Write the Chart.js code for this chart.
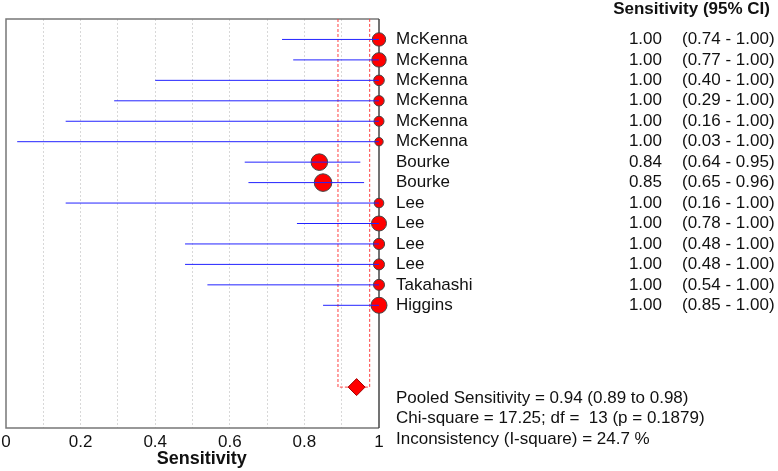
<!DOCTYPE html>
<html>
<head>
<meta charset="utf-8">
<script src="https://cdn.jsdelivr.net/npm/chart.js@4.4.1/dist/chart.umd.min.js"></script>
<style>
  html, body { margin: 0; padding: 0; background: #fff; }
  #wrap { width: 778px; height: 471px; }
</style>
</head>
<body>
<div id="wrap"><canvas id="forestChart"></canvas></div>
<script>
// study rows, top to bottom
var studies = ["McKenna", "McKenna", "McKenna", "McKenna", "McKenna", "McKenna",
    "Bourke", "Bourke", "Lee", "Lee", "Lee", "Lee", "Takahashi", "Higgins"];
var sensitivity = [1.00, 1.00, 1.00, 1.00, 1.00, 1.00, 0.84, 0.85, 1.00, 1.00, 1.00, 1.00, 1.00, 1.00];
var ciLow = [0.74, 0.77, 0.40, 0.29, 0.16, 0.03, 0.64, 0.65, 0.16, 0.78, 0.48, 0.48, 0.54, 0.85];
var ciHigh = [1.00, 1.00, 1.00, 1.00, 1.00, 1.00, 0.95, 0.96, 1.00, 1.00, 1.00, 1.00, 1.00, 1.00];
// marker radius (study weight)
var markerSize = [6.7, 7.2, 5.3, 5.2, 5.0, 4.2, 8.3, 8.8, 4.8, 7.5, 5.6, 5.5, 5.5, 8.0];

var pooled = [0.94, 0.89, 0.975]; // estimate, lower, upper
var pooledRow = 17;
var xTicks = [0, 0.2, 0.4, 0.6, 0.8, 1];
var statsText = [
    "Pooled Sensitivity = 0.94 (0.89 to 0.98)",
    "Chi-square = 17.25; df =  13 (p = 0.1879)",
    "Inconsistency (I-square) = 24.7 %"
];

var FONT = "'Liberation Sans', Arial, sans-serif";

// one short line per study for the confidence interval
var ciSets = studies.map(function (s, i) {
    return {
        type: 'line',
        data: [{x: ciLow[i], y: i}, {x: ciHigh[i], y: i}],
        borderColor: 'rgb(35, 35, 255)',
        borderWidth: 1,
        pointRadius: 0,
        clip: false,
        order: 0
    };
});

var framePlugin = {
    id: 'frame',
    beforeDatasetsDraw: function (chart) {
        var a = chart.chartArea, ctx = chart.ctx;
        var x1 = chart.scales.x.getPixelForValue(1);
        ctx.save();
        ctx.strokeStyle = '#777';
        ctx.lineWidth = 1.5;
        ctx.beginPath();
        ctx.moveTo(x1, a.top);
        ctx.lineTo(a.left, a.top);
        ctx.lineTo(a.left, a.bottom);
        ctx.lineTo(x1, a.bottom);
        ctx.stroke();
        ctx.strokeStyle = '#444';
        ctx.beginPath();
        ctx.moveTo(x1, a.top);
        ctx.lineTo(x1, a.bottom);
        ctx.stroke();
        ctx.restore();
    }
};

var textPlugin = {
    id: 'sideText',
    afterDraw: function (chart) {
        var ctx = chart.ctx, y = chart.scales.y, x = chart.scales.x;
        ctx.save();
        ctx.fillStyle = '#111';
        ctx.textBaseline = 'middle';
        ctx.font = 'bold 17px ' + FONT;
        ctx.textAlign = 'right';
        ctx.fillText('Sensitivity (95% CI)', 770, 9);
        // x axis title, sits a little right of centre in the original
        ctx.textAlign = 'center';
        ctx.font = 'bold 18px ' + FONT;
        ctx.fillText('Sensitivity', x.getPixelForValue(0.525), 459);
        ctx.font = '17px ' + FONT;
        studies.forEach(function (name, i) {
            var py = y.getPixelForValue(i);
            ctx.textAlign = 'left';
            ctx.fillText(name, 396, py);
            ctx.textAlign = 'right';
            ctx.fillText(sensitivity[i].toFixed(2), 662, py);
            ctx.textAlign = 'left';
            ctx.fillText('(' + ciLow[i].toFixed(2) + ' - ' + ciHigh[i].toFixed(2) + ')', 682, py);
        });
        ctx.textAlign = 'left';
        statsText.forEach(function (t, k) {
            ctx.fillText(t, 396, y.getPixelForValue(pooledRow + 0.55 + k));
        });
        ctx.restore();
    }
};

var ctx = document.getElementById('forestChart').getContext('2d');
var forestChart = new Chart(ctx, {
    type: 'scatter',
    data: {
        datasets: ciSets.concat([
            {
                type: 'scatter',
                data: sensitivity.map(function (v, i) { return {x: v, y: i}; }),
                pointRadius: markerSize,
                backgroundColor: '#ff0000',
                borderColor: '#444',
                borderWidth: 1,
                clip: false,
                order: 1
            },
            {
                type: 'scatter',
                data: [{x: pooled[0], y: pooledRow}],
                pointStyle: 'rectRot',
                pointRadius: 8.5,
                backgroundColor: '#ff0000',
                borderColor: '#a00000',
                borderWidth: 1,
                clip: false,
                order: 0
            },
            {
                type: 'line',
                data: [{x: pooled[1], y: -1}, {x: pooled[1], y: pooledRow},
                       {x: pooled[2], y: pooledRow}, {x: pooled[2], y: -1}],
                borderColor: '#ff4040',
                borderWidth: 1,
                borderDash: [3, 2],
                pointRadius: 0,
                order: 2
            }
        ])
    },
    options: {
        responsive: true,
        maintainAspectRatio: false,
        animation: false,
        layout: { autoPadding: false, padding: { left: 6, right: 399, top: 19, bottom: 0 } },
        plugins: { legend: { display: false }, tooltip: { enabled: false } },
        scales: {
            x: {
                type: 'linear', min: 0, max: 1,
                afterFit: function (s) {
                    s.height = 43;
                    s.paddingLeft = 0;
                    s.paddingRight = 0;
                },
                afterBuildTicks: function (s) {
                    var t = [];
                    for (var k = 0; k <= 10; k++) t.push({value: k / 10});
                    s.ticks = t;
                },
                ticks: {
                    autoSkip: false, maxRotation: 0, padding: 4, color: '#111',
                    font: { size: 17, family: FONT },
                    callback: function (v) {
                        var r = Math.round(v * 10);
                        return xTicks.indexOf(r / 10) >= 0 ? String(r / 10) : '';
                    }
                },
                grid: {
                    drawTicks: false,
                    color: function (c) {
                        var v = c.tick ? c.tick.value : 0;
                        return (v <= 0.001 || v >= 0.999) ? 'rgba(0,0,0,0)' : '#d8d8d8';
                    }
                },
                border: { display: false, dash: [2, 2] },
                title: { display: false }
            },
            y: { type: 'linear', min: -1, max: 19, reverse: true, display: false }
        }
    },
    plugins: [framePlugin, textPlugin]
});
</script>
</body>
</html>
